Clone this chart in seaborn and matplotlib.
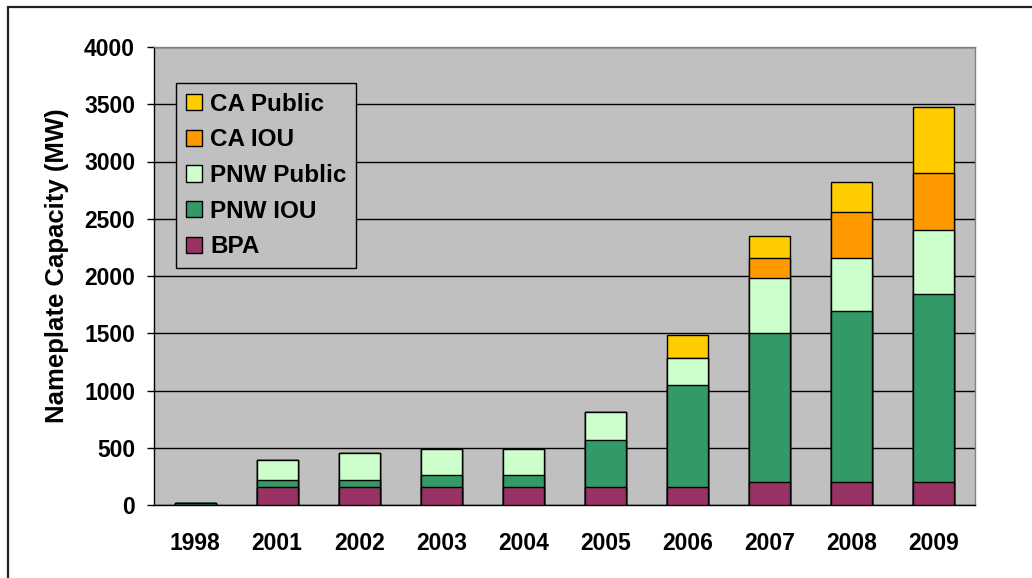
import numpy as np
import pandas as pd
import matplotlib
matplotlib.use('Agg')
import matplotlib.pyplot as plt
from matplotlib.patches import Patch, Rectangle
import seaborn as sns

# values (MW)
years = ['1998', '2001', '2002', '2003', '2004', '2005', '2006', '2007', '2008', '2009']
bpa = [0, 160, 160, 160, 160, 160, 160, 205, 205, 205]
pnw_iou = [20, 55, 55, 100, 100, 405, 885, 1300, 1485, 1640]
pnw_public = [0, 180, 240, 233, 233, 245, 240, 475, 470, 560]
ca_iou = [0, 0, 0, 0, 0, 0, 0, 180, 395, 495]
ca_public = [0, 0, 0, 0, 0, 0, 200, 185, 270, 580]

series = ['BPA', 'PNW IOU', 'PNW Public', 'CA IOU', 'CA Public']
colors = {'BPA': '#993366', 'PNW IOU': '#339966', 'PNW Public': '#CCFFCC',
          'CA IOU': '#FF9900', 'CA Public': '#FFCC00'}
yticks = [0, 500, 1000, 1500, 2000, 2500, 3000, 3500, 4000]

df = pd.DataFrame({'Year': years, 'BPA': bpa, 'PNW IOU': pnw_iou,
                   'PNW Public': pnw_public, 'CA IOU': ca_iou, 'CA Public': ca_public})
# cumulative totals so the tallest bar is drawn first and covered by the lower ones
cum = df[series].cumsum(axis=1)
cum['Year'] = df['Year']

sns.set_style('white')
plt.rcParams['font.family'] = ['Liberation Sans', 'DejaVu Sans']
plt.rcParams['font.weight'] = 'bold'
plt.rcParams['text.color'] = 'black'
plt.rcParams['xtick.color'] = 'black'
plt.rcParams['ytick.color'] = 'black'

fig = plt.figure(figsize=(10.32, 5.78), dpi=100)
ax = fig.add_axes([154 / 1032, 1 - 505 / 578, 821 / 1032, 458 / 578])
ax.set_facecolor('#C0C0C0')

for s in reversed(series):
    sns.barplot(data=cum, x='Year', y=s, order=years, color=colors[s], width=0.5,
                edgecolor='black', linewidth=1, saturation=1, ax=ax, zorder=3)

ax.set_ylim(0, 4000)
ax.set_xlim(-0.5, len(years) - 0.5)
ax.set_yticks(yticks)
ax.set_yticklabels([str(t) for t in yticks], fontsize=16.5, fontweight='bold', color='black')
ax.set_xticks(range(len(years)))
ax.set_xticklabels(years, fontsize=16.5, fontweight='bold', color='black')
ax.set_xticks(np.arange(-0.5, len(years), 1), minor=True)
ax.tick_params(axis='x', which='major', length=0, pad=19.5)
ax.tick_params(axis='x', which='minor', length=5, width=1, color='black', direction='out')
ax.tick_params(axis='y', length=5, width=1, color='black', direction='out', pad=8.6, left=True)
ax.set_xlabel('')
ax.set_ylabel('')

ax.yaxis.grid(True, color='black', linewidth=1)
ax.set_axisbelow(True)
for side in ['left', 'bottom']:
    ax.spines[side].set_color('black')
    ax.spines[side].set_linewidth(1)
for side in ['top', 'right']:
    ax.spines[side].set_color('#808080')
    ax.spines[side].set_linewidth(1)

fig.text(57 / 1032, 1 - 266 / 578, 'Nameplate Capacity (MW)', rotation=90,
         ha='center', va='center', fontsize=18.5, fontweight='bold', color='black')

handles = [Patch(facecolor=colors[s], edgecolor='black', linewidth=1, label=s)
           for s in reversed(series)]
leg = ax.legend(handles=handles, loc='upper left', bbox_to_anchor=(22 / 821, (505 - 83) / 458),
                borderaxespad=0, frameon=True, fancybox=False,
                handlelength=0.66, handleheight=0.66, handletextpad=0.35,
                labelspacing=0.52, borderpad=0.4,
                prop={'weight': 'bold', 'size': 17.5})
leg.get_frame().set_facecolor('#C0C0C0')
leg.get_frame().set_edgecolor('black')
leg.get_frame().set_linewidth(1)
leg.get_frame().set_alpha(1)
leg.set_zorder(5)
for t in leg.get_texts():
    t.set_color('black')

# outer chart frame (right and bottom edges fall outside the image)
fig.patches.append(Rectangle((8 / 1032, -0.1), 1.2, 1 - 7 / 578 + 0.1, transform=fig.transFigure,
                             fill=False, edgecolor='#222222', linewidth=1.6))

fig.savefig('out.png', dpi=100)
